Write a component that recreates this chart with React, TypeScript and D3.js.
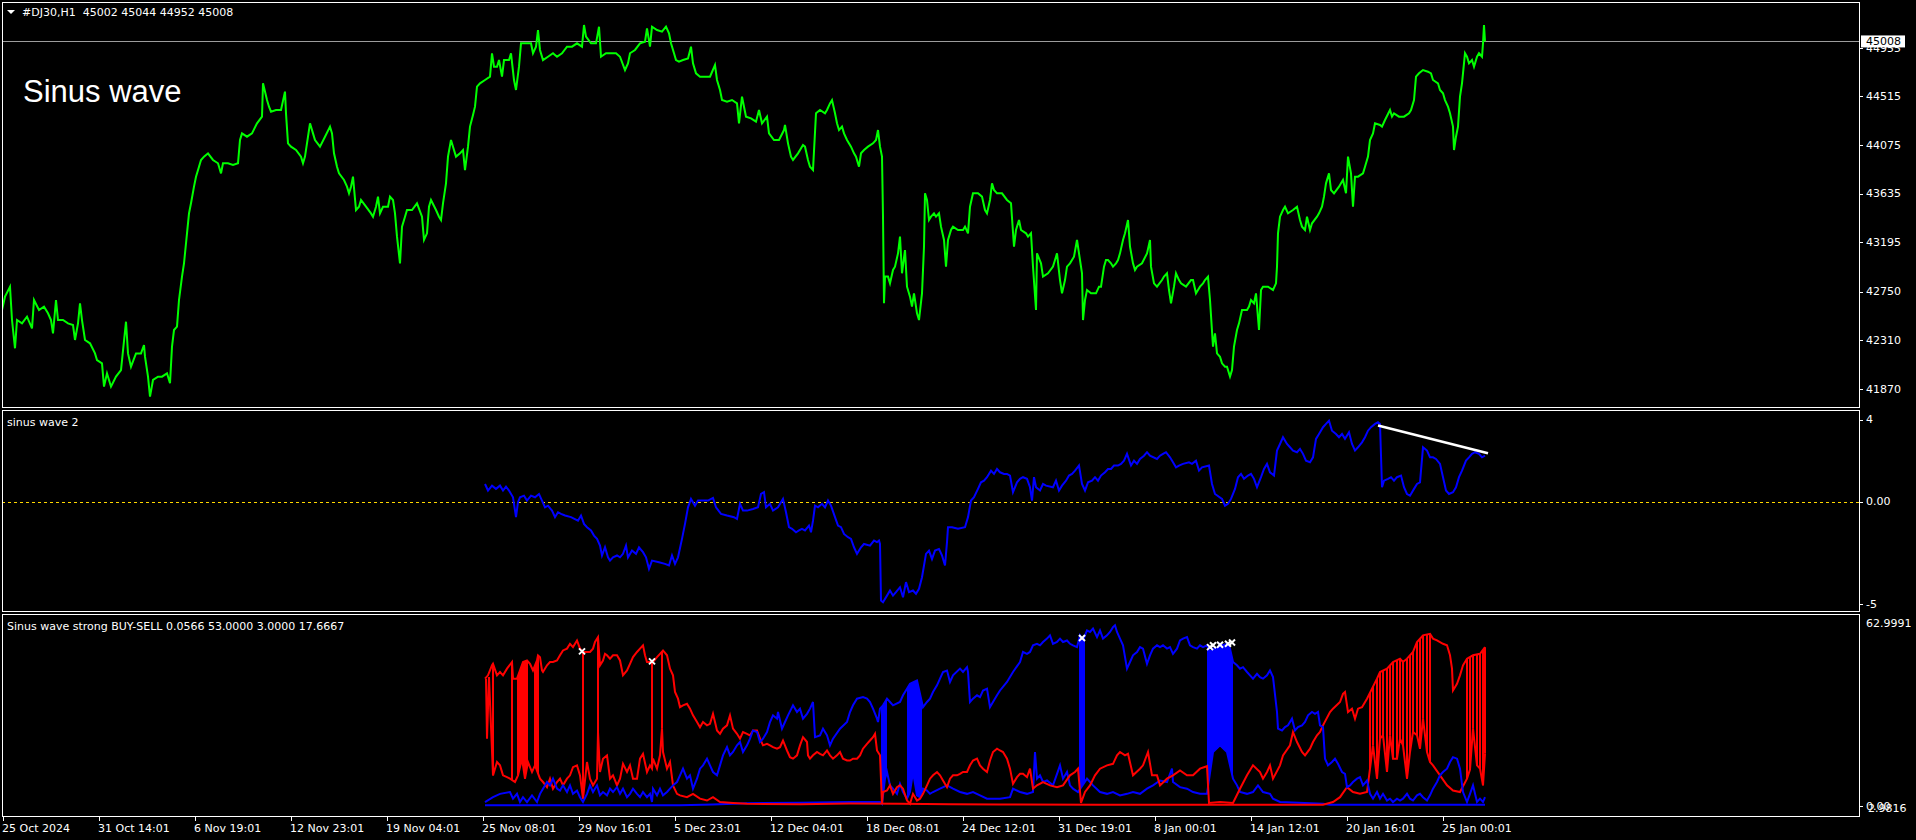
import React from 'react';
import * as d3 from 'd3';

type Pt = [number, number];

// ---- data (bar index, value) ----
const priceSeries: Pt[] = [
  [2,42584],[5,42704],[10,42794],[12,42493],[15,42238],[17,42493],[22,42463],[27,42523],[32,42418],[34,42674],[39,42584],[44,42614],[48,42554],[51,42493],[53,42373],[56,42674],[58,42493],[63,42493],[68,42463],[73,42448],[75,42313],[78,42463],[80,42644],[82,42493],[85,42313],[90,42283],[95,42192],[97,42132],[102,42102],[104,41892],[107,42012],[109,41952],[111,41892],[116,41982],[121,42042],[126,42478],[128,42192],[131,42072],[136,42192],[141,42192],[144,42268],[145,42162],[148,41982],[150,41801],[153,41952],[158,41982],[162,41982],[167,42012],[170,41922],[172,42253],[174,42403],[177,42433],[179,42674],[182,42885],[184,43005],[187,43276],[189,43456],[191,43547],[194,43697],[196,43787],[199,43877],[201,43938],[204,43968],[208,43998],[213,43938],[218,43908],[221,43817],[223,43908],[228,43908],[233,43893],[238,43908],[240,44118],[242,44178],[247,44148],[252,44178],[257,44269],[262,44329],[263,44630],[267,44479],[269,44419],[271,44374],[276,44389],[281,44389],[285,44555],[286,44359],[288,44088],[291,44058],[296,44028],[301,43968],[303,43908],[305,43968],[308,44148],[310,44269],[313,44178],[315,44118],[320,44058],[325,44148],[330,44239],[332,44178],[334,43998],[337,43877],[339,43817],[344,43757],[347,43697],[349,43637],[351,43697],[353,43787],[356,43486],[359,43516],[361,43577],[366,43516],[371,43456],[373,43426],[376,43516],[378,43607],[380,43456],[383,43516],[388,43516],[390,43607],[393,43577],[395,43456],[397,43246],[400,43005],[402,43336],[405,43426],[407,43486],[412,43486],[417,43547],[422,43426],[424,43216],[427,43276],[429,43516],[431,43577],[436,43486],[439,43426],[441,43396],[443,43547],[446,43727],[448,43968],[451,44118],[453,44058],[456,43968],[460,43998],[463,44028],[465,43847],[468,44058],[470,44239],[473,44344],[475,44419],[477,44600],[480,44630],[485,44660],[490,44690],[492,44901],[494,44780],[497,44780],[499,44840],[502,44690],[504,44840],[509,44840],[511,44901],[514,44660],[516,44570],[519,44780],[521,44991],[526,44991],[531,44991],[533,44901],[536,44961],[538,45111],[540,44931],[543,44840],[548,44870],[553,44901],[557,44870],[562,44901],[567,44961],[572,44961],[577,44991],[582,44961],[584,45156],[586,45051],[591,44991],[596,44991],[599,45141],[601,44870],[606,44901],[611,44901],[616,44901],[620,44870],[625,44750],[628,44810],[630,44901],[635,44931],[640,44991],[645,45006],[647,45126],[650,44961],[652,45141],[657,45111],[662,45096],[666,45141],[669,45081],[671,44991],[674,44901],[676,44840],[679,44825],[683,44840],[688,44855],[691,44961],[693,44810],[696,44720],[700,44690],[705,44690],[710,44690],[715,44795],[717,44660],[720,44570],[722,44479],[727,44464],[732,44479],[737,44449],[739,44269],[742,44509],[744,44419],[746,44329],[751,44314],[756,44284],
  [759,44389],[762,44269],[767,44329],[769,44178],[774,44118],[779,44118],[784,44208],[785,44254],[788,44088],[791,43968],[793,43938],[798,43998],[803,44073],[805,44058],[808,43938],[810,43877],[813,43847],[816,44359],[820,44389],[825,44359],[827,44389],[830,44449],[832,44479],[835,44359],[837,44269],[839,44208],[842,44239],[844,44178],[847,44118],[851,44058],[854,43998],[856,43968],[859,43877],[861,43998],[864,44028],[868,44058],[873,44088],[876,44118],[878,44208],[880,44058],[882,43968],[883,43426],[884,42644],[885,42885],[888,42885],[890,42824],[893,42945],[895,42975],[898,43095],[900,43246],[902,42915],[905,43125],[907,42794],[910,42704],[912,42614],[914,42734],[917,42554],[919,42493],[922,42734],[924,43155],[925,43637],[927,43577],[929,43396],[931,43426],[934,43456],[936,43426],[939,43456],[941,43336],[944,43216],[946,42975],[948,43216],[951,43306],[953,43336],[958,43306],[963,43306],[965,43336],[968,43276],[970,43516],[973,43637],[978,43637],[982,43607],[985,43486],[987,43456],[990,43577],[992,43727],[994,43667],[997,43637],[1002,43637],[1007,43577],[1011,43547],[1014,43155],[1016,43306],[1019,43396],[1021,43306],[1026,43276],[1028,43246],[1031,43276],[1033,42975],[1036,42584],[1037,43095],[1041,43005],[1043,42885],[1048,42915],[1053,42975],[1055,43035],[1057,43095],[1060,42854],[1062,42734],[1065,42854],[1067,42975],[1070,43005],[1074,43065],[1077,43216],[1079,43095],[1082,42915],[1083,42493],[1085,42674],[1087,42764],[1091,42734],[1096,42734],[1099,42794],[1101,42794],[1104,42975],[1106,43035],[1108,43035],[1111,43005],[1113,42975],[1116,43005],[1118,43035],[1120,43095],[1123,43216],[1125,43276],[1128,43396],[1130,43155],[1133,43005],[1135,42945],[1137,42975],[1142,43005],[1147,43095],[1150,43216],[1151,42975],[1154,42824],[1157,42794],[1162,42854],[1164,42885],[1167,42915],[1169,42764],[1171,42644],[1174,42794],[1176,42915],[1179,42854],[1181,42824],[1186,42794],[1191,42854],[1193,42854],[1196,42734],[1198,42764],[1200,42794],[1203,42824],[1205,42854],[1208,42885],[1210,42674],[1213,42253],[1215,42373],[1217,42192],[1220,42162],[1222,42102],[1225,42072],[1227,42072],[1230,41982],[1232,42042],[1234,42253],[1237,42403],[1239,42463],[1242,42584],[1244,42584],[1247,42584],[1249,42614],[1251,42674],[1254,42644],[1256,42734],[1259,42403],[1261,42764],[1263,42794],[1268,42794],[1273,42764],[1276,42824],[1277,42975],[1278,43276],[1280,43426],[1283,43486],[1285,43516],[1288,43456],[1293,43486],[1297,43516],[1300,43396],[1302,43336],[1305,43306],[1307,43426],[1310,43306],[1312,43366],[1317,43426],[1319,43456],[1322,43516],[1324,43607],[1326,43727],[1329,43817],[1331,43667],[1334,43637],[1339,43697],[1341,43727],[1343,43757],[1346,43637],[1348,43968],[1351,43817],[1353,43516],[1355,43787],[1358,43787],[1363,43817],[1365,43877],[1368,43968],[1370,44118],[1373,44178],[1375,44269],[1380,44254],[1382,44239],[1385,44299],[1390,44389],[1392,44329],[1394,44359],[1399,44329],[1404,44329],[1409,44359],[1411,44389],[1414,44479],[1416,44690],[1419,44720],[1423,44750],[1428,44735],[1431,44720],[1433,44660],[1438,44630],[1440,44570],[1443,44540],[1445,44479],[1448,44419],[1450,44359],[1453,44239],[1454,44028],[1456,44148],[1458,44239],[1460,44509],[1462,44630],[1465,44901],[1467,44870],[1469,44810],[1472,44840],[1474,44780],[1477,44870],[1479,44901],[1482,44870],[1483,44991],[1484,45156],[1485,45008],
];

const priceTicks = [44515, 44075, 43635, 43195, 42750, 42310, 41870];
const hiddenTick = 44955;
const lastPrice = 45008;

const wave2: Pt[] = [
  [485,0.86],[488,0.54],[492,0.78],[496,0.62],[500,0.78],[503,0.54],[506,0.73],[509,0.54],[513,0.21],[516,-0.76],[518,-0.03],[520,0.21],[524,0.29],[527,0.05],[531,0.29],[535,0.21],[539,0.37],[542,0.05],[545,-0.28],[548,-0.2],[552,-0.44],[555,-0.76],[558,-0.52],[561,-0.6],[565,-0.68],[571,-0.76],[578,-0.93],[581,-0.68],[584,-1.09],[587,-1.25],[591,-1.41],[594,-1.66],[597,-1.82],[600,-2.15],[602,-2.63],[605,-2.23],[608,-2.72],[610,-2.88],[613,-2.72],[617,-2.63],[620,-2.72],[623,-2.55],[626,-2.15],[628,-2.72],[632,-2.39],[636,-2.55],[639,-2.23],[643,-2.47],[646,-2.72],[649,-3.28],[652,-2.88],[659,-2.96],[665,-3.04],[669,-3.12],[672,-2.63],[675,-3.04],[678,-2.72],[682,-1.82],[685,-1.09],[688,-0.28],[691,0.13],[695,-0.2],[698,0.05],[701,0.05],[708,0.05],[713,0.18],[716,-0.28],[721,-0.6],[727,-0.68],[734,-0.76],[737,-0.85],[740,-0.11],[743,-0.44],[747,-0.44],[753,-0.36],[758,-0.28],[761,0.37],[764,0.46],[766,-0.28],[770,-0.11],[773,-0.44],[778,-0.28],[783,0.13],[786,-0.52],[789,-1.25],[792,-1.33],[796,-1.5],[799,-1.41],[802,-1.33],[805,-1.41],[809,-1.17],[811,-1.5],[813,-0.93],[815,-0.2],[818,-0.28],[822,-0.11],[825,-0.28],[828,0.05],[831,-0.2],[835,-0.76],[838,-1.17],[841,-1.25],[844,-1.58],[848,-1.74],[851,-1.82],[854,-2.23],[857,-2.55],[861,-2.23],[864,-2.07],[870,-2.15],[874,-1.9],[877,-1.98],[879,-1.9],[880,-2.07],[881,-4.83],[883,-4.91],[887,-4.59],[890,-4.34],[893,-4.59],[896,-4.42],[900,-4.18],[903,-4.67],[906,-3.93],[909,-4.42],[913,-4.34],[916,-4.5],[919,-4.26],[922,-3.69],[926,-2.55],[929,-2.39],[932,-2.8],[935,-2.39],[939,-2.31],[942,-2.63],[945,-3.12],[947,-1.98],[948,-1.25],[952,-1.25],[958,-1.33],[965,-1.25],[968,-0.76],[971,0.05],[974,0.21],[978,0.62],[981,0.94],[984,1.02],[987,1.19],[991,1.51],[994,1.35],[997,1.59],[1000,1.43],[1004,1.35],[1007,1.35],[1010,1.27],[1013,0.46],[1017,0.94],[1020,1.11],[1023,1.19],[1027,1.11],[1030,0.7],[1032,0.05],[1034,1.19],[1036,0.7],[1040,0.54],[1043,0.86],[1046,0.78],[1053,0.7],[1056,1.02],[1059,0.54],[1062,0.78],[1066,1.02],[1069,1.27],[1072,1.35],[1075,1.51],[1079,1.76],[1082,0.86],[1085,0.54],[1088,0.94],[1092,1.02],[1095,1.19],[1098,1.02],[1101,1.27],[1105,1.43],[1108,1.59],[1111,1.59],[1114,1.76],[1118,1.76],[1121,1.84],[1124,2.0],[1127,2.33],[1131,1.76],[1134,2.0],[1137,1.84],[1140,2.08],[1144,2.24],[1147,2.41],[1150,2.24],[1157,2.08],[1160,2.24],[1163,2.33],[1166,2.41],[1170,2.16],[1173,1.92],[1176,1.67],[1179,1.76],[1183,1.84],[1189,1.92],[1192,1.84],[1196,2.0],[1199,1.51],[1202,1.67],[1209,1.76],[1212,0.86],[1215,0.37],[1222,0.13],[1225,-0.2],[1228,-0.11],[1231,0.13],[1235,0.62],[1238,1.19],[1241,1.35],[1244,1.11],[1248,1.27],[1251,1.35],[1254,1.11],[1257,0.7],[1261,1.19],[1264,1.59],[1267,1.84],[1270,1.43],[1274,1.27],[1277,2.49],[1280,2.81],[1283,3.14],[1287,2.81],[1290,2.65],[1293,2.49],[1297,2.41],[1300,2.57],[1303,2.33],[1306,2.0],[1310,1.92],[1313,2.16],[1316,3.06],[1319,3.3],[1323,3.63],[1326,3.79],[1329,3.95],[1332,3.46],[1336,3.3],[1339,3.14],[1342,3.3],[1345,3.06],[1349,3.38],[1352,2.81],[1355,2.49],[1358,2.65],[1362,2.89],[1365,3.14],[1368,3.46],[1371,3.63],[1375,3.79],[1378,3.87],[1380,3.79],[1382,0.7],[1384,1.02],[1388,1.11],[1391,1.19],[1394,1.02],[1397,1.19],[1401,1.27],[1404,0.7],[1407,0.37],[1410,0.29],[1414,0.62],[1417,0.86],[1420,0.94],[1423,2.65],[1427,2.49],[1430,2.16],[1433,2.16],[1436,2.08],[1440,1.84],[1443,1.19],[1446,0.54],[1449,0.37],[1453,0.46],[1456,0.7],[1459,1.19],[1462,1.51],[1466,2.0],[1469,2.16],[1472,2.33],[1475,2.41],[1479,2.33],[1482,2.16],[1485,2.24],
];
const wave2Trend: Pt[] = [[1378, 3.71], [1488, 2.36]];
const wave2Ticks = [4, 0, -5];

const sellMain: Pt[] = [
  [485,42.0],[488,43.1],[492,46.4],[493,46.9],[497,43.1],[500,44.2],[503,43.1],[507,45.3],[512,47.5],[513,42.0],[517,42.0],[520,44.7],[523,47.5],[527,48.0],[530,46.9],[533,44.7],[537,48.0],[538,49.7],[540,49.1],[542,44.7],[543,44.2],[547,46.4],[550,47.5],[553,47.5],[557,48.0],[560,49.7],[563,51.3],[567,51.9],[570,53.5],[573,52.4],[577,54.6],[580,51.9],[583,50.8],[587,50.8],[590,50.8],[593,51.9],[595,54.1],[598,55.7],[600,46.4],[603,48.0],[605,50.2],[607,49.7],[610,48.6],[613,49.7],[617,49.7],[620,48.0],[623,43.1],[627,44.7],[630,46.9],[633,49.1],[637,50.8],[640,51.9],[643,53.0],[645,49.7],[647,47.5],[650,47.5],[653,47.5],[657,49.1],[660,50.2],[663,51.3],[667,49.7],[670,45.3],[673,43.1],[675,37.6],[678,35.4],[680,32.6],[683,33.2],[687,33.7],[690,32.1],[693,29.9],[697,27.7],[700,26.0],[703,27.7],[707,26.6],[710,27.1],[713,30.4],[715,27.7],[717,24.9],[720,23.8],[723,25.5],[727,26.6],[730,29.9],[733,25.5],[737,23.8],[740,22.2],[743,24.4],[747,23.8],[750,23.3],[753,24.9],[757,24.9],[760,22.2],[763,20.0],[767,20.5],[770,20.0],[773,19.4],[777,18.9],[780,19.4],[783,21.6],[787,18.3],[790,16.1],[793,15.6],[797,16.7],[800,20.0],[803,22.7],[807,21.1],[808,16.7],[810,15.6],[813,16.7],[817,17.8],[820,17.2],[823,16.7],[827,18.3],[830,16.7],[833,15.6],[837,16.7],[840,17.8],[843,15.6],[847,15.0],[850,15.0],[853,15.6],[857,15.6],[860,16.7],[863,18.9],[867,20.5],[870,21.6],[873,22.7],[875,23.8],[877,18.3],[880,16.7],[882,0.7],[883,4.6],[887,5.1],[890,6.8],[893,4.0],[897,6.2],[900,6.8],[903,5.7],[907,1.8],[910,0.7],[913,4.0],[917,1.8],[920,2.4],[923,4.0],[927,6.8],[930,9.0],[933,10.1],[937,11.2],[940,10.1],[943,8.4],[947,6.2],[950,9.0],[953,10.1],[957,10.1],[960,10.6],[963,11.2],[967,11.2],[970,13.4],[973,15.0],[977,15.6],[980,13.4],[983,12.3],[987,11.2],[990,15.0],[993,17.8],[997,18.9],[1000,18.3],[1003,17.8],[1007,15.6],[1010,12.3],[1013,7.3],[1017,9.5],[1020,10.6],[1023,10.6],[1027,9.5],[1030,12.3],[1033,5.7],[1037,6.8],[1043,7.9],[1050,6.8],[1057,6.2],[1063,6.8],[1070,10.1],[1075,11.2],[1078,12.3],[1081,1.0],[1085,4.6],[1090,6.8],[1095,10.1],[1100,12.3],[1107,13.4],[1113,13.9],[1117,16.7],[1120,17.8],[1125,16.7],[1128,17.2],[1133,10.1],[1140,12.3],[1143,13.4],[1148,17.8],[1152,10.1],[1157,10.1],[1160,6.8],[1167,9.0],[1173,10.1],[1180,11.7],[1187,10.1],[1193,10.1],[1200,12.3],[1207,13.1],[1209,1.0],[1220,1.3],[1233,1.0],[1240,5.7],[1247,10.1],[1253,13.4],[1260,11.2],[1263,9.0],[1267,11.2],[1270,13.4],[1273,9.0],[1280,13.4],[1283,16.7],[1290,20.0],[1293,24.4],[1297,21.1],[1302,17.8],[1305,16.7],[1310,18.9],[1313,21.1],[1317,23.3],[1320,24.4],[1323,26.6],[1330,31.0],[1333,32.1],[1340,34.3],[1343,37.0],[1345,37.6],[1348,31.0],[1352,32.1],[1355,28.8],[1358,32.1],[1362,32.6],[1367,35.4],[1372,38.7],[1377,42.0],[1380,44.2],[1387,45.3],[1393,47.5],[1400,48.6],[1403,47.5],[1407,48.6],[1413,50.8],[1417,54.1],[1423,56.3],[1430,56.8],[1433,55.2],[1437,54.6],[1443,53.5],[1447,53.0],[1450,49.7],[1452,45.3],[1453,38.1],[1457,40.3],[1460,43.1],[1463,46.4],[1467,48.6],[1473,49.7],[1480,50.2],[1485,52.4],
];

const sellLow: Pt[] = [
  [486,42.0],[487,22.2],[489,42.5],[493,10.1],[497,14.5],[500,13.4],[503,10.1],[507,9.5],[510,9.0],[515,7.9],[518,10.1],[522,15.6],[525,9.0],[528,14.5],[532,11.2],[535,13.4],[540,9.0],[543,7.9],[547,6.2],[550,9.0],[553,5.7],[557,7.9],[560,9.0],[563,6.8],[567,9.0],[570,10.1],[573,12.8],[577,13.4],[580,10.1],[583,2.4],[587,14.5],[590,9.0],[593,6.8],[597,9.0],[598,24.4],[600,11.2],[603,15.6],[607,16.7],[610,9.0],[613,10.1],[617,6.8],[620,9.0],[623,13.9],[627,11.2],[630,13.4],[633,9.0],[637,9.0],[640,15.6],[643,17.2],[647,11.2],[650,13.4],[652,12.3],[653,15.6],[657,12.3],[660,16.7],[662,25.5],[663,17.8],[667,12.3],[670,14.5],[673,6.8],[677,4.0],[680,3.5],[687,2.9],[693,4.0],[700,2.4],[707,1.8],[713,2.9],[720,1.3],[733,1.0],[747,0.7],[800,0.6],[850,0.8],[900,0.7],[950,0.6],[1000,0.5],[1100,0.4],[1200,0.4],[1323,0.4],[1333,1.3],[1340,2.9],[1347,6.2],[1353,4.6],[1360,4.0],[1367,4.6],[1370,12.3],[1373,20.0],[1377,9.0],[1380,22.2],[1383,23.3],[1387,11.2],[1390,23.3],[1393,15.6],[1397,15.6],[1400,22.2],[1403,20.0],[1407,9.0],[1410,17.8],[1413,24.4],[1417,23.3],[1420,18.9],[1423,28.8],[1427,17.8],[1430,14.5],[1433,13.4],[1440,10.1],[1447,6.8],[1453,5.1],[1460,4.6],[1467,9.0],[1470,12.0],[1473,25.5],[1477,13.4],[1480,12.3],[1483,6.8],[1485,17.2],
];

const buyMain: Pt[] = [
  [485,1.3],[493,2.9],[500,4.0],[510,4.6],[513,2.4],[517,4.0],[520,1.3],[523,2.9],[527,1.3],[532,3.5],[537,1.3],[540,4.0],[543,5.7],[547,7.9],[550,6.8],[553,9.0],[557,5.7],[560,5.1],[563,6.8],[567,4.6],[570,6.8],[573,4.0],[577,5.1],[580,2.9],[583,1.3],[587,4.0],[590,6.8],[593,4.6],[597,6.8],[600,3.5],[603,4.6],[607,3.5],[610,5.7],[613,4.6],[617,6.2],[620,4.0],[623,5.7],[627,2.9],[630,4.0],[633,5.7],[637,4.0],[640,2.9],[643,4.6],[647,2.9],[650,4.0],[652,1.3],[653,5.7],[657,3.5],[660,5.7],[663,3.5],[667,4.6],[670,5.7],[673,6.8],[677,7.9],[680,10.1],[683,12.3],[687,9.0],[690,10.1],[693,5.7],[697,9.0],[700,12.3],[703,13.4],[707,15.6],[710,13.4],[713,11.2],[717,10.1],[720,13.4],[723,16.7],[727,19.4],[730,16.7],[733,17.8],[737,20.0],[740,21.1],[743,17.8],[747,20.0],[750,22.2],[753,24.9],[757,24.4],[760,21.1],[763,22.2],[767,24.4],[770,27.7],[773,29.9],[777,28.8],[778,31.0],[782,25.5],[785,27.7],[788,29.9],[793,33.2],[797,31.0],[800,32.1],[803,28.8],[807,30.4],[810,32.1],[813,34.3],[815,22.7],[820,23.3],[823,25.5],[827,23.3],[830,20.0],[833,22.2],[840,25.5],[847,27.7],[850,31.0],[853,33.2],[857,35.4],[863,35.9],[867,35.4],[870,34.3],[873,32.1],[877,28.8],[878,27.7],[880,32.1],[883,33.2],[887,35.4],[890,34.3],[893,33.2],[900,34.3],[903,36.5],[907,38.7],[910,40.3],[917,41.4],[923,32.6],[927,34.3],[930,35.4],[933,37.6],[937,39.8],[940,42.0],[943,44.2],[947,44.7],[950,40.9],[953,43.1],[960,45.3],[963,44.2],[967,45.8],[968,44.2],[970,34.3],[973,35.4],[977,36.5],[980,35.9],[983,38.1],[987,38.7],[990,32.6],[993,34.3],[997,36.5],[1000,38.1],[1007,40.9],[1013,44.2],[1020,47.5],[1023,50.8],[1027,50.2],[1030,50.8],[1033,53.0],[1037,53.5],[1040,53.0],[1043,54.1],[1047,55.2],[1050,56.3],[1053,53.5],[1057,54.1],[1060,55.2],[1063,54.1],[1067,54.6],[1070,53.5],[1073,53.0],[1077,52.4],[1080,56.3],[1083,54.6],[1087,57.9],[1090,57.4],[1093,58.5],[1097,55.7],[1100,57.9],[1103,55.2],[1107,56.3],[1110,57.4],[1113,59.0],[1115,59.6],[1117,57.4],[1120,55.2],[1123,53.0],[1127,45.3],[1130,47.5],[1133,49.7],[1137,50.8],[1140,52.4],[1143,51.9],[1147,46.9],[1150,49.7],[1153,51.9],[1157,53.0],[1160,52.4],[1163,53.0],[1167,51.9],[1170,52.4],[1173,50.2],[1177,51.9],[1180,54.6],[1183,55.2],[1187,55.7],[1190,53.0],[1193,52.4],[1197,51.9],[1200,53.0],[1203,52.4],[1207,53.0],[1210,50.8],[1213,51.9],[1217,51.9],[1220,53.5],[1223,53.0],[1227,53.5],[1230,51.9],[1233,47.5],[1237,46.4],[1240,45.3],[1243,45.8],[1247,44.2],[1250,43.1],[1253,42.0],[1257,43.6],[1260,42.5],[1263,42.0],[1267,43.1],[1270,44.7],[1273,42.5],[1277,31.0],[1278,25.5],[1282,24.9],[1285,26.0],[1288,26.6],[1292,28.8],[1295,24.9],[1298,26.0],[1302,26.6],[1305,27.7],[1308,29.9],[1312,31.0],[1315,30.4],[1318,31.0],[1320,26.6],[1323,26.0],[1325,15.6],[1328,13.4],[1332,14.5],[1335,15.6],[1338,13.9],[1342,11.2],[1345,10.6],[1347,6.2],[1350,6.8],[1353,7.9],[1357,9.0],[1360,9.5],[1363,6.8],[1367,8.4],[1370,4.0],[1373,2.4],[1377,4.6],[1380,2.4],[1383,4.0],[1387,1.8],[1390,2.4],[1393,1.3],[1397,2.4],[1400,1.8],[1403,2.4],[1407,4.0],[1410,2.4],[1413,1.8],[1417,3.5],[1420,4.0],[1423,2.9],[1427,1.8],[1430,3.5],[1433,5.7],[1437,7.9],[1440,10.1],[1443,11.2],[1447,12.3],[1450,14.5],[1453,16.1],[1457,15.6],[1460,12.3],[1463,4.6],[1467,1.3],[1470,4.0],[1473,6.8],[1477,1.3],[1480,2.4],[1483,1.3],[1485,2.9],
];

const buyLow: Pt[] = [
  [485,0.2],[680,0.2],[713,0.5],[747,0.9],[800,1.1],[850,1.3],[880,1.3],[882,0.7],[885,9.0],[887,11.2],[890,6.8],[893,5.7],[897,4.0],[900,7.3],[903,4.6],[907,2.4],[910,4.6],[913,11.2],[917,3.5],[920,2.9],[923,5.7],[927,5.1],[930,4.0],[933,4.6],[940,5.7],[947,6.8],[953,5.7],[960,4.6],[967,4.0],[973,4.6],[980,3.5],[987,2.4],[1000,2.4],[1010,2.9],[1013,5.7],[1020,4.6],[1027,4.0],[1033,4.6],[1035,17.8],[1037,9.0],[1040,10.1],[1043,7.9],[1047,8.4],[1053,6.8],[1060,13.4],[1063,9.0],[1067,11.2],[1070,6.8],[1073,5.7],[1078,4.6],[1087,9.0],[1090,7.9],[1093,6.8],[1100,4.6],[1107,4.0],[1113,4.6],[1120,3.5],[1127,4.0],[1133,4.6],[1140,4.0],[1147,5.7],[1153,6.8],[1160,8.4],[1167,7.9],[1172,12.3],[1173,7.9],[1180,6.2],[1187,5.7],[1193,4.6],[1200,4.0],[1207,4.0],[1213,17.8],[1220,20.0],[1227,17.8],[1233,9.0],[1237,6.8],[1240,4.6],[1247,4.0],[1253,4.6],[1258,6.8],[1263,4.6],[1270,4.0],[1273,2.4],[1280,1.3],[1323,0.7],[1330,0.4],[1485,0.4],
];

const sellSpikeBars = [493,512,518,519,520,521,522,523,524,525,526,527,535,537,538,583,598,652,662,
  1370,1373,1377,1380,1383,1387,1390,1393,1397,1400,1403,1407,1410,1413,1417,1420,1423,1427,1430,1467,1470,1473,1477,1480,1483,1485];
const buySpikeBars = [882,883,884,885,886,908,909,910,911,912,913,914,915,916,917,918,919,920,921,1080,1081,1082,1083,1084,
  1208,1209,1210,1211,1212,1213,1214,1215,1216,1217,1218,1219,1220,1221,1222,1223,1224,1225,1226,1227,1228,1229,1230,1231,1232];
const signalMarks: Pt[] = [[582,51.0],[652,47.7],[1082,55.4],[1210,52.4],[1213,53.0],[1220,53.2],[1228,53.5],[1232,53.9]];
const strongMax = 62.9991;
const strongMin = -2.9816;

const timeTickBars = [3,99,195,291,387,483,579,675,771,867,963,1059,1155,1251,1347,1443];
const timeLabels = ['25 Oct 2024','31 Oct 14:01','6 Nov 19:01','12 Nov 23:01','19 Nov 04:01','25 Nov 08:01','29 Nov 16:01','5 Dec 23:01','12 Dec 04:01','18 Dec 08:01','24 Dec 12:01','31 Dec 19:01','8 Jan 00:01','14 Jan 12:01','20 Jan 16:01','25 Jan 00:01'];

// ---- layout ----
const W = 1916, H = 840;
const L = 2, R = 1859;
const P1 = { top: 2, bottom: 407 };
const P2 = { top: 410, bottom: 611 };
const P3 = { top: 614, bottom: 816 };
const FONT = '"DejaVu Sans", sans-serif';

const x = d3.scaleLinear().domain([0, 1916]).range([0, 1916]);
const yMain = d3.scaleLinear().domain([41708, 45364]).range([P1.bottom, P1.top]);
const yWave = d3.scaleLinear().domain([-5.34, 4.47]).range([P2.bottom, P2.top]);
const yStrong = d3.scaleLinear().domain([strongMin, strongMax]).range([815, 615]);

const valueAt = (s: Pt[], b: number) => {
  const i = d3.bisector((d: Pt) => d[0]).left(s, b);
  if (i <= 0) return s[0][1];
  if (i >= s.length) return s[s.length - 1][1];
  const [x0, y0] = s[i - 1];
  const [x1, y1] = s[i];
  return y0 + ((y1 - y0) * (b - x0)) / (x1 - x0);
};

const mkLine = (ys: d3.ScaleLinear<number, number>) =>
  d3.line<Pt>().x(d => x(d[0])).y(d => ys(d[1]));

const App: React.FC = () => {
  const mainPath = mkLine(yMain)(priceSeries) || '';
  const wavePath = mkLine(yWave)(wave2) || '';
  const trendPath = mkLine(yWave)(wave2Trend) || '';
  const lineS = mkLine(yStrong);

  const frame = (p: { top: number; bottom: number }) => (
    <rect x={L + 0.5} y={p.top + 0.5} width={R - L} height={p.bottom - p.top} fill="none" stroke="#ffffff" strokeWidth={1} />
  );
  const axisLabel = (y: number, t: string, key: string, tick = true) => (
    <g key={key}>
      {tick && <line x1={R + 1} x2={R + 4} y1={Math.round(y) + 0.5} y2={Math.round(y) + 0.5} stroke="#ffffff" />}
      <text x={R + 7} y={y} dy="0.35em" fill="#ffffff" fontSize={11} fontFamily={FONT}>{t}</text>
    </g>
  );

  return (
    <div style={{ position: 'fixed', left: 0, top: 0, width: W, height: H, background: '#000' }}>
      <svg width={W} height={H} style={{ display: 'block' }}>
        <defs>
          <clipPath id="c1"><rect x={L} y={P1.top} width={R - L} height={P1.bottom - P1.top} /></clipPath>
          <clipPath id="c2"><rect x={L} y={P2.top} width={R - L} height={P2.bottom - P2.top} /></clipPath>
          <clipPath id="c3"><rect x={L} y={P3.top} width={R - L} height={P3.bottom - P3.top} /></clipPath>
        </defs>
        <rect width={W} height={H} fill="#000" />

        {/* main price window */}
        <g clipPath="url(#c1)">
          <line x1={L} x2={R} y1={Math.round(yMain(lastPrice)) + 0.5} y2={Math.round(yMain(lastPrice)) + 0.5} stroke="#9c9c9c" />
          <path d={mainPath} fill="none" stroke="#00ff00" strokeWidth={2} strokeLinejoin="miter" />
        </g>
        {frame(P1)}
        <path d="M7,10 L15,10 L11,14 Z" fill="#ffffff" />
        <text x={22} y={16} fill="#ffffff" fontSize={11} fontFamily={FONT} style={{ whiteSpace: 'pre' }}>{'#DJ30,H1  45002 45044 44952 45008'}</text>
        <text x={23} y={102} fill="#ffffff" fontSize={31} fontFamily='"Liberation Sans", Arial, sans-serif'>Sinus wave</text>
        {priceTicks.map(p => axisLabel(yMain(p), String(p), 'p' + p))}
        {axisLabel(yMain(hiddenTick) + 1, String(hiddenTick), 'ph')}
        <rect x={R + 2} y={yMain(lastPrice) - 6} width={44} height={12} fill="#ffffff" />
        <text x={R + 7} y={yMain(lastPrice)} dy="0.35em" fill="#000000" fontSize={11} fontFamily={FONT}>{lastPrice}</text>

        {/* sinus wave 2 */}
        <g clipPath="url(#c2)">
          <line x1={L} x2={R} y1={Math.round(yWave(0)) + 0.5} y2={Math.round(yWave(0)) + 0.5} stroke="#ffd700" strokeDasharray="3,3" />
          <path d={wavePath} fill="none" stroke="#0000ff" strokeWidth={2} />
          <path d={trendPath} fill="none" stroke="#ffffff" strokeWidth={2.5} />
        </g>
        {frame(P2)}
        <text x={7} y={426} fill="#ffffff" fontSize={11} fontFamily={FONT}>sinus wave 2</text>
        {wave2Ticks.map(v => axisLabel(yWave(v), v === 0 ? '0.00' : String(v), 'w' + v))}

        {/* strong BUY-SELL */}
        <g clipPath="url(#c3)">
          <path d={lineS(buyLow) || ''} fill="none" stroke="#0000ff" strokeWidth={2} />
          <path d={lineS(sellLow) || ''} fill="none" stroke="#ff0000" strokeWidth={2} />
          {sellSpikeBars.map(b => (
            <line key={'s' + b} x1={x(b)} x2={x(b)} y1={yStrong(valueAt(sellMain, b))} y2={yStrong(valueAt(sellLow, b))} stroke="#ff0000" strokeWidth={2} />
          ))}
          {buySpikeBars.map(b => (
            <line key={'b' + b} x1={x(b)} x2={x(b)} y1={yStrong(valueAt(buyMain, b))} y2={yStrong(valueAt(buyLow, b))} stroke="#0000ff" strokeWidth={2} />
          ))}
          <path d={lineS(sellMain) || ''} fill="none" stroke="#ff0000" strokeWidth={2} />
          <path d={lineS(buyMain) || ''} fill="none" stroke="#0000ff" strokeWidth={2} />
          {signalMarks.map(([b, v], i) => (
            <g key={'m' + i} stroke="#ffffff" strokeWidth={2}>
              <line x1={x(b) - 3} x2={x(b) + 3} y1={yStrong(v) - 3} y2={yStrong(v) + 3} />
              <line x1={x(b) - 3} x2={x(b) + 3} y1={yStrong(v) + 3} y2={yStrong(v) - 3} />
            </g>
          ))}
        </g>
        {frame(P3)}
        <text x={7} y={630} fill="#ffffff" fontSize={11} fontFamily={FONT}>Sinus wave strong BUY-SELL 0.0566 53.0000 3.0000 17.6667</text>
        <text x={R + 7} y={623} dy="0.35em" fill="#ffffff" fontSize={11} fontFamily={FONT}>{strongMax.toFixed(4)}</text>
        {axisLabel(806, '0.00', 'z0')}
        <text x={R + 9} y={808} dy="0.35em" fill="#ffffff" fontSize={11} fontFamily={FONT}>{Math.abs(strongMin).toFixed(4)}</text>

        {/* time axis */}
        {timeTickBars.map((b, i) => (
          <g key={'t' + b}>
            <line x1={Math.round(x(b)) + 0.5} x2={Math.round(x(b)) + 0.5} y1={P3.bottom + 1} y2={P3.bottom + 5} stroke="#ffffff" />
            <text x={x(b) - 1} y={832} fill="#ffffff" fontSize={11} fontFamily={FONT}>{timeLabels[i]}</text>
          </g>
        ))}
      </svg>
    </div>
  );
};

export default App;
